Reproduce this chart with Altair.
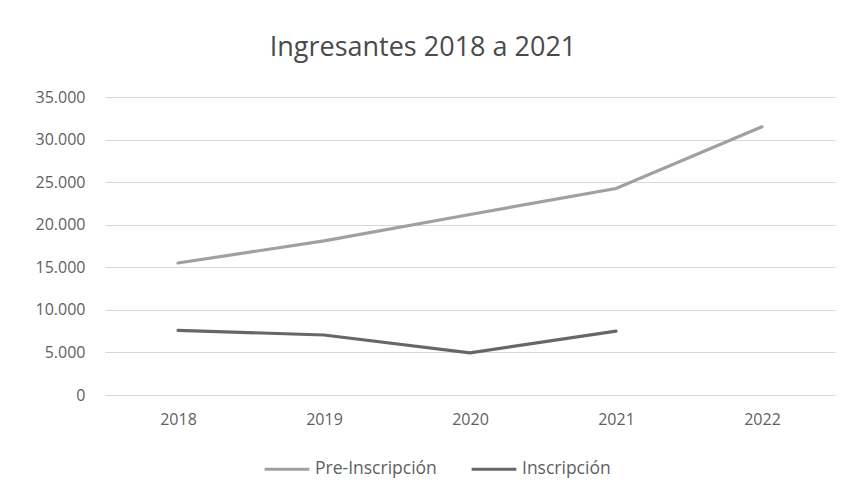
import altair as alt
import pandas as pd

years = ["2018", "2019", "2020", "2021", "2022"]
pre_inscripcion = [15500, 18100, 21200, 24250, 31500]
inscripcion = [7600, 7050, 4950, 7500, None]
series_names = ["Pre-Inscripción", "Inscripción"]
series_colors = ["#a0a0a0", "#676767"]
y_ticks = [0, 5000, 10000, 15000, 20000, 25000, 30000, 35000]

rows = []
for name, vals in zip(series_names, [pre_inscripcion, inscripcion]):
    for y, v in zip(years, vals):
        if v is not None:
            rows.append({"Año": y, "Serie": name, "Valor": v})
df = pd.DataFrame(rows)

FONT = "Open Sans"

chart = alt.Chart(df).mark_line(strokeWidth=3.2, strokeCap="round").encode(
    x=alt.X("Año:N", sort=years, title=None,
            scale=alt.Scale(paddingInner=0, paddingOuter=0.5),
            axis=alt.Axis(labelAngle=0, ticks=False, domain=False,
                          labelPadding=16, labelFontSize=16, labelColor="#5f5f5f",
                          labelFont=FONT, grid=False)),
    y=alt.Y("Valor:Q", title=None,
            scale=alt.Scale(domain=[0, 35000], nice=False),
            axis=alt.Axis(values=y_ticks, ticks=False, domain=False,
                          labelExpr="replace(format(datum.value, ','), ',', '.')",
                          labelPadding=20, labelFontSize=16, labelColor="#5f5f5f",
                          labelFont=FONT, gridColor="#d6d6d6", gridWidth=1)),
    color=alt.Color("Serie:N", sort=series_names,
                    scale=alt.Scale(domain=series_names, range=series_colors),
                    legend=alt.Legend(title=None, orient="none", direction="horizontal",
                                      legendX=158, legendY=348,
                                      symbolType="stroke", symbolSize=2000,
                                      symbolStrokeWidth=3, labelFontSize=17.5,
                                      labelFont=FONT, labelColor="#5f5f5f",
                                      columnPadding=28, labelOffset=4)),
).properties(
    width=730,
    height=298,
    title=alt.TitleParams("Ingresantes 2018 a 2021", fontSize=27, font=FONT,
                          fontWeight="normal", color="#4a4a4a", anchor="middle",
                          dx=-47, offset=27),
    padding={"left": 97, "top": 89, "right": 7, "bottom": 97},
    autosize=alt.AutoSizeParams(type="none"),
).configure(
    background="white",
    view=alt.ViewConfig(stroke="transparent", strokeWidth=0),
)

chart.save("out.html", embed_options={"renderer": "svg", "actions": False})
